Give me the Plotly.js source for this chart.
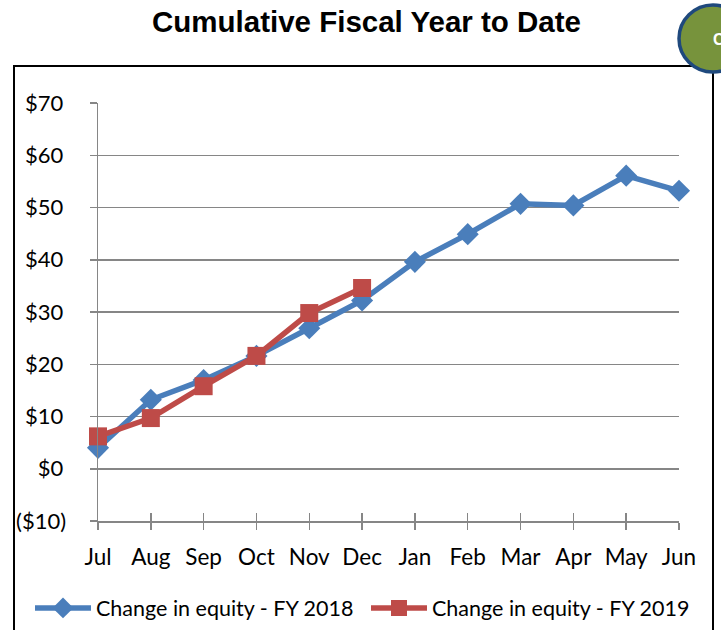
<!DOCTYPE html>
<html>
<head>
<meta charset="utf-8">
<script src="https://cdn.plot.ly/plotly-3.0.1.min.js"></script>
<style>html,body{margin:0;padding:0;background:#fff}</style>
</head>
<body>
<div id="chart" style="width:721px;height:630px"></div>
<script>
const months = ["Jul","Aug","Sep","Oct","Nov","Dec","Jan","Feb","Mar","Apr","May","Jun"];
const fy2018 = [4.0, 13.2, 17.0, 21.6, 26.9, 32.2, 39.6, 44.9, 50.7, 50.4, 56.1, 53.2];
const fy2019 = [6.2, 9.7, 15.8, 21.6, 29.8, 34.6];
const fy2018Name = "Change in equity - FY 2018";
const fy2019Name = "Change in equity - FY 2019";
const yTickVals = [-10, 0, 10, 20, 30, 40, 50, 60, 70];
const yTickText = ["($10)", "$0\u2009", "$10\u2009", "$20\u2009", "$30\u2009", "$40\u2009", "$50\u2009", "$60\u2009", "$70\u2009"];
const titleText = "Cumulative Fiscal Year to Date";

const axisFont = {family: "Lato, 'Open Sans', sans-serif", size: 22.5, color: "#000"};
const yAxisFont = {family: "Lato, 'Open Sans', sans-serif", size: 22, color: "#000"};

const traces = [
  {x: months, y: fy2018, name: fy2018Name, type: "scatter", mode: "lines+markers", cliponaxis: false,
   line: {color: "#4A7EBB", width: 5.5}, marker: {symbol: "diamond", size: 17, color: "#4A7EBB"}},
  {x: months.slice(0, fy2019.length), y: fy2019, name: fy2019Name, type: "scatter", mode: "lines+markers", cliponaxis: false,
   line: {color: "#BE4B48", width: 5.5}, marker: {symbol: "square", size: 18, color: "#BE4B48"}},
  {x: months, y: months.map(() => null), xaxis: "x2", showlegend: false, hoverinfo: "skip", type: "scatter", mode: "lines"}
];

const L = 98, R = 679, T = 103, B = 521, W = 721, H = 630;
const px = v => (v - L) / (R - L);
const py = v => (B - v) / (B - T);

const layout = {
  width: W, height: H,
  margin: {l: L, r: W - R, t: T, b: H - B, pad: 0, autoexpand: false},
  paper_bgcolor: "#fff", plot_bgcolor: "#fff",
  title: {text: "<b>" + titleText + "</b>", font: {family: "'Liberation Sans', Arial, sans-serif", size: 29.5, color: "#000"},
          x: 366.5 / W, xanchor: "center", y: 1 - 22 / H, yanchor: "middle"},
  xaxis: {type: "category", range: [0, months.length - 1], showgrid: false, zeroline: false, automargin: false,
          showline: true, linecolor: "#868686", linewidth: 1.5,
          ticks: "outside", ticklen: 7, tickwidth: 1.5, tickcolor: "#868686",
          tickfont: axisFont, ticklabelstandoff: 8, fixedrange: true},
  xaxis2: {type: "category", overlaying: "x", range: [0, months.length - 1], showgrid: false, zeroline: false,
           showline: false, ticks: "inside", ticklen: 8, tickwidth: 1.5, tickcolor: "#868686",
           showticklabels: false, anchor: "y", side: "bottom", matches: "x"},
  yaxis: {range: [-10, 70], tickvals: yTickVals, ticktext: yTickText, showgrid: true, gridcolor: "#868686", gridwidth: 1.5,
          zeroline: false, showline: true, linecolor: "#868686", linewidth: 1.5, automargin: false,
          ticks: "outside", ticklen: 7, tickwidth: 1.5, tickcolor: "#868686",
          tickfont: yAxisFont, ticklabelstandoff: 19, fixedrange: true},
  showlegend: true,
  legend: {orientation: "h", x: px(30), xanchor: "left", y: py(608), yanchor: "middle",
           font: {family: "Lato, 'Open Sans', sans-serif", size: 21.5, color: "#000"},
           itemwidth: 56, entrywidth: 265, tracegroupgap: 0, bgcolor: "rgba(0,0,0,0)"},
  shapes: [
    {type: "rect", xref: "paper", yref: "paper", x0: px(14), x1: px(713), y0: py(66), y1: py(660),
     line: {color: "#000", width: 2}, fillcolor: "rgba(0,0,0,0)", layer: "below"},
    {type: "circle", xref: "paper", yref: "paper", x0: px(679), x1: px(747), y0: py(72), y1: py(5),
     line: {color: "#1F497D", width: 3.5}, fillcolor: "#77933C", layer: "above"}
  ],
  annotations: [
    {xref: "paper", yref: "paper", x: px(711), y: py(40), xanchor: "left", yanchor: "middle", showarrow: false,
     text: "<b>C</b>", font: {family: "'Liberation Sans', Arial, sans-serif", size: 16, color: "#fff"}}
  ]
};

Plotly.newPlot("chart", traces, layout, {displayModeBar: false, staticPlot: true});
</script>
</body>
</html>
